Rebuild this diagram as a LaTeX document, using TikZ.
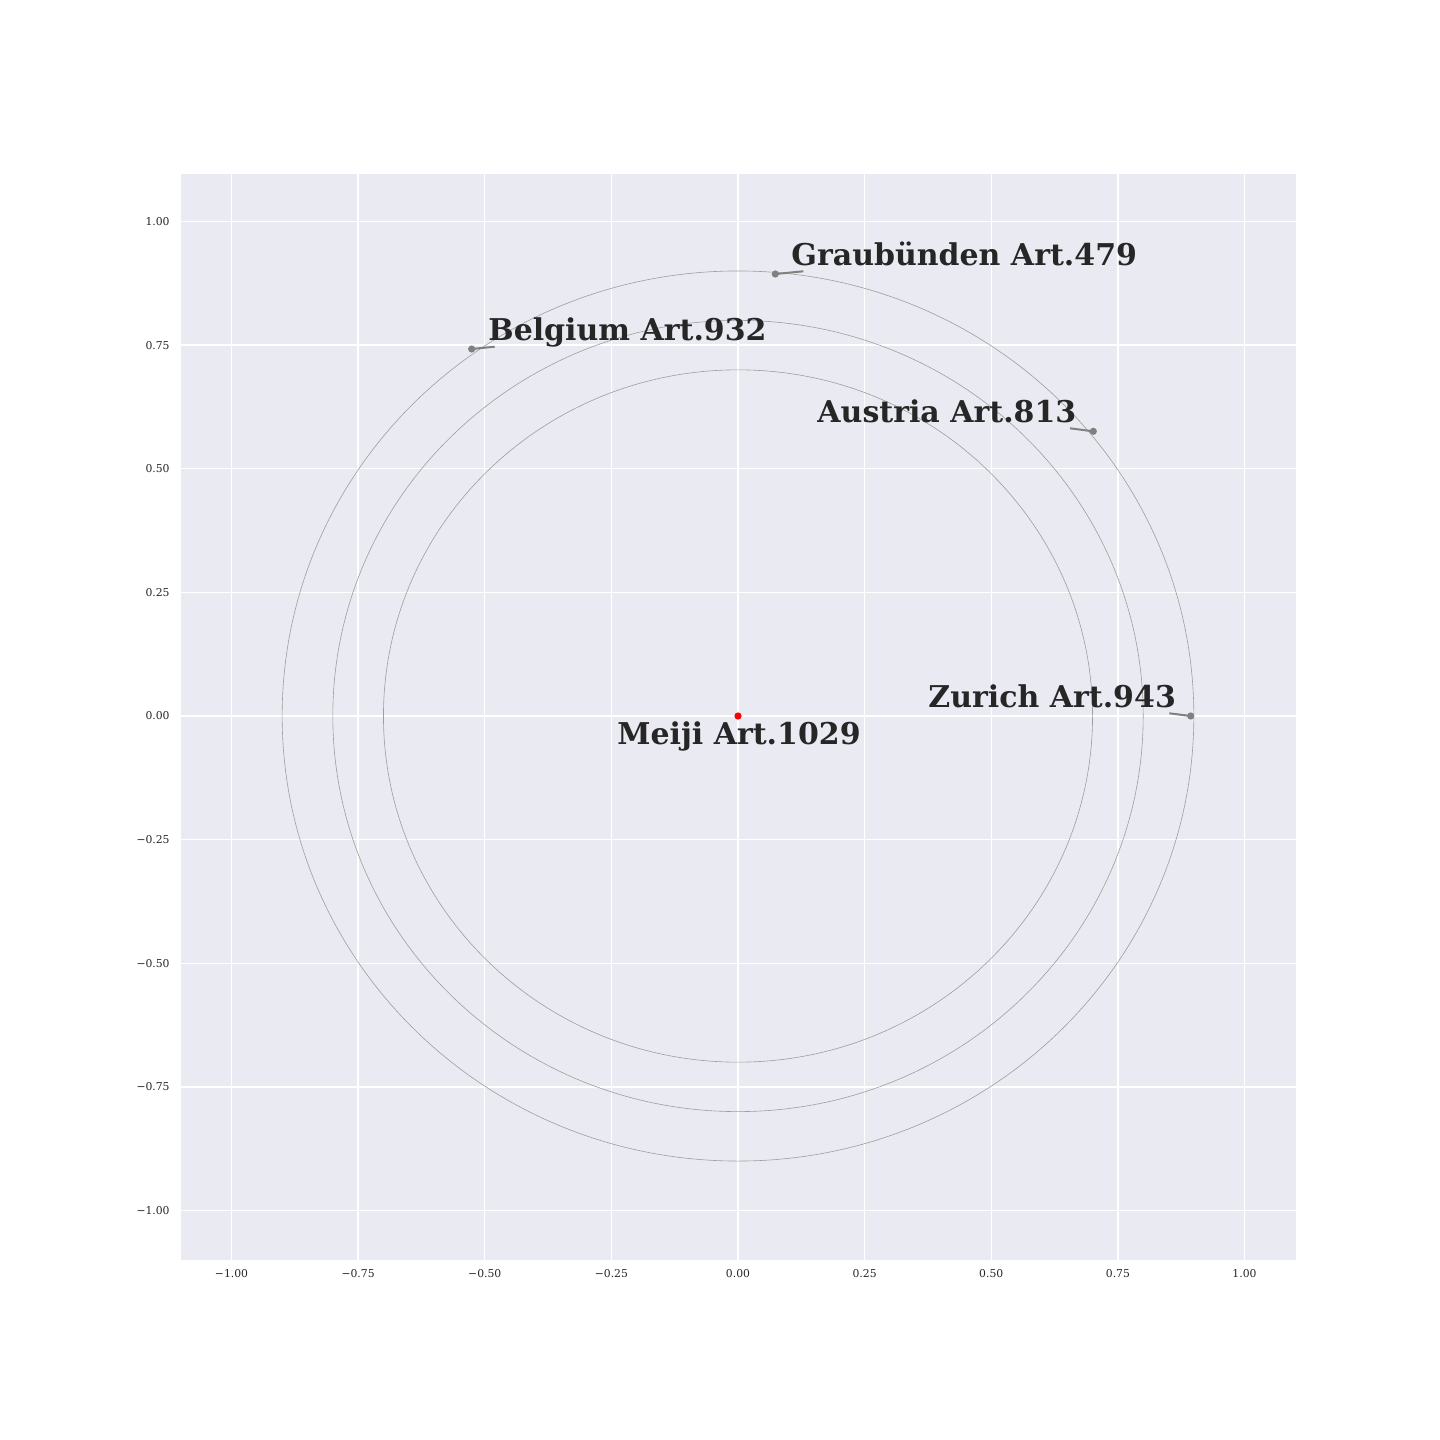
\documentclass[tikz,border=0pt]{standalone}
\usepackage{fontspec}
\setmainfont{DejaVu Serif}
\definecolor{axbg}{HTML}{EAEAF2}
\definecolor{txt}{HTML}{262626}
\definecolor{ptgray}{HTML}{808080}
\begin{document}
\begin{tikzpicture}[x=0.5pt,y=-0.5pt,
  gridline/.style={white,line width=0.65pt},
  ring/.style={draw=black!38,line width=0.3pt},
  pt/.style={circle,fill=ptgray,inner sep=0pt,minimum size=3.6pt},
  redpt/.style={circle,fill=red,inner sep=0pt,minimum size=3.6pt},
  lead/.style={ptgray,line width=1pt},
  lbl/.style={anchor=base west,inner sep=0pt,text=txt,font=\fontsize{15}{18}\selectfont\bfseries},
  xtick/.style={anchor=center,inner sep=0pt,text=txt,font=\fontsize{5.4}{6}\selectfont},
  ytick/.style={anchor=east,inner sep=0pt,text=txt,font=\fontsize{5.4}{6}\selectfont}]
\useasboundingbox (0,0) rectangle (1440,1440);
\fill[white] (0,0) rectangle (1440,1440);
\fill[axbg] (181,174) rectangle (1296,1260);
% grid
\foreach \gx in {231.5,358.1,484.75,611.4,738,864.6,991.25,1117.9,1244.5}
  \draw[gridline] (\gx,174) -- (\gx,1260);
\foreach \gy in {221.5,345.1,468.75,592.4,716,839.6,963.25,1086.9,1210.5}
  \draw[gridline] (181,\gy) -- (1296,\gy);
% ticks
\node[xtick] (x1) at (231.5,1274) {−1.00};
\node[xtick] (x2) at (358.1,1274) {−0.75};
\node[xtick] (x3) at (484.75,1274) {−0.50};
\node[xtick] (x4) at (611.4,1274) {−0.25};
\node[xtick] (x5) at (738,1274) {0.00};
\node[xtick] (x6) at (864.6,1274) {0.25};
\node[xtick] (x7) at (991.25,1274) {0.50};
\node[xtick] (x8) at (1117.9,1274) {0.75};
\node[xtick] (x9) at (1244.5,1274) {1.00};
\node[ytick] (y1) at (170,221.5) {1.00};
\node[ytick] (y2) at (170,345.1) {0.75};
\node[ytick] (y3) at (170,468.75) {0.50};
\node[ytick] (y4) at (170,592.4) {0.25};
\node[ytick] (y5) at (170,716) {0.00};
\node[ytick] (y6) at (170,839.6) {−0.25};
\node[ytick] (y7) at (170,963.25) {−0.50};
\node[ytick] (y8) at (170,1086.9) {−0.75};
\node[ytick] (y9) at (170,1210.5) {−1.00};
% rings
\draw[ring] (738,716) ellipse [x radius=177.275pt, y radius=173.075pt];
\draw[ring] (738,716) ellipse [x radius=202.6pt, y radius=197.8pt];
\draw[ring] (738,716) ellipse [x radius=227.925pt, y radius=222.525pt];
% leader ends
\coordinate (gE) at (803.3,271.3);
\coordinate (bE) at (494.7,346.7);
\coordinate (aE) at (1070,428.3);
\coordinate (zE) at (1169.3,713.3);
% points
\node[pt] (g) at (775.3,274) {};
\node[pt] (b) at (471.7,349) {};
\node[pt] (a) at (1093.3,431.3) {};
\node[pt] (z) at (1190.7,716) {};
\draw[lead] (g.center) -- (gE);
\draw[lead] (b.center) -- (bE);
\draw[lead] (a.center) -- (aE);
\draw[lead] (z.center) -- (zE);
\node[redpt] (m) at (738,716) {};
% labels
\node[lbl] (gl) at (791,265) {Graubünden Art.479};
\node[lbl] (bl) at (488,340) {Belgium Art.932};
\node[lbl] (al) at (817,422) {Austria Art.813};
\node[lbl] (zl) at (928,707.5) {Zurich Art.943};
\node[lbl] (ml) at (617,744) {Meiji Art.1029};
\end{tikzpicture}
\end{document}
